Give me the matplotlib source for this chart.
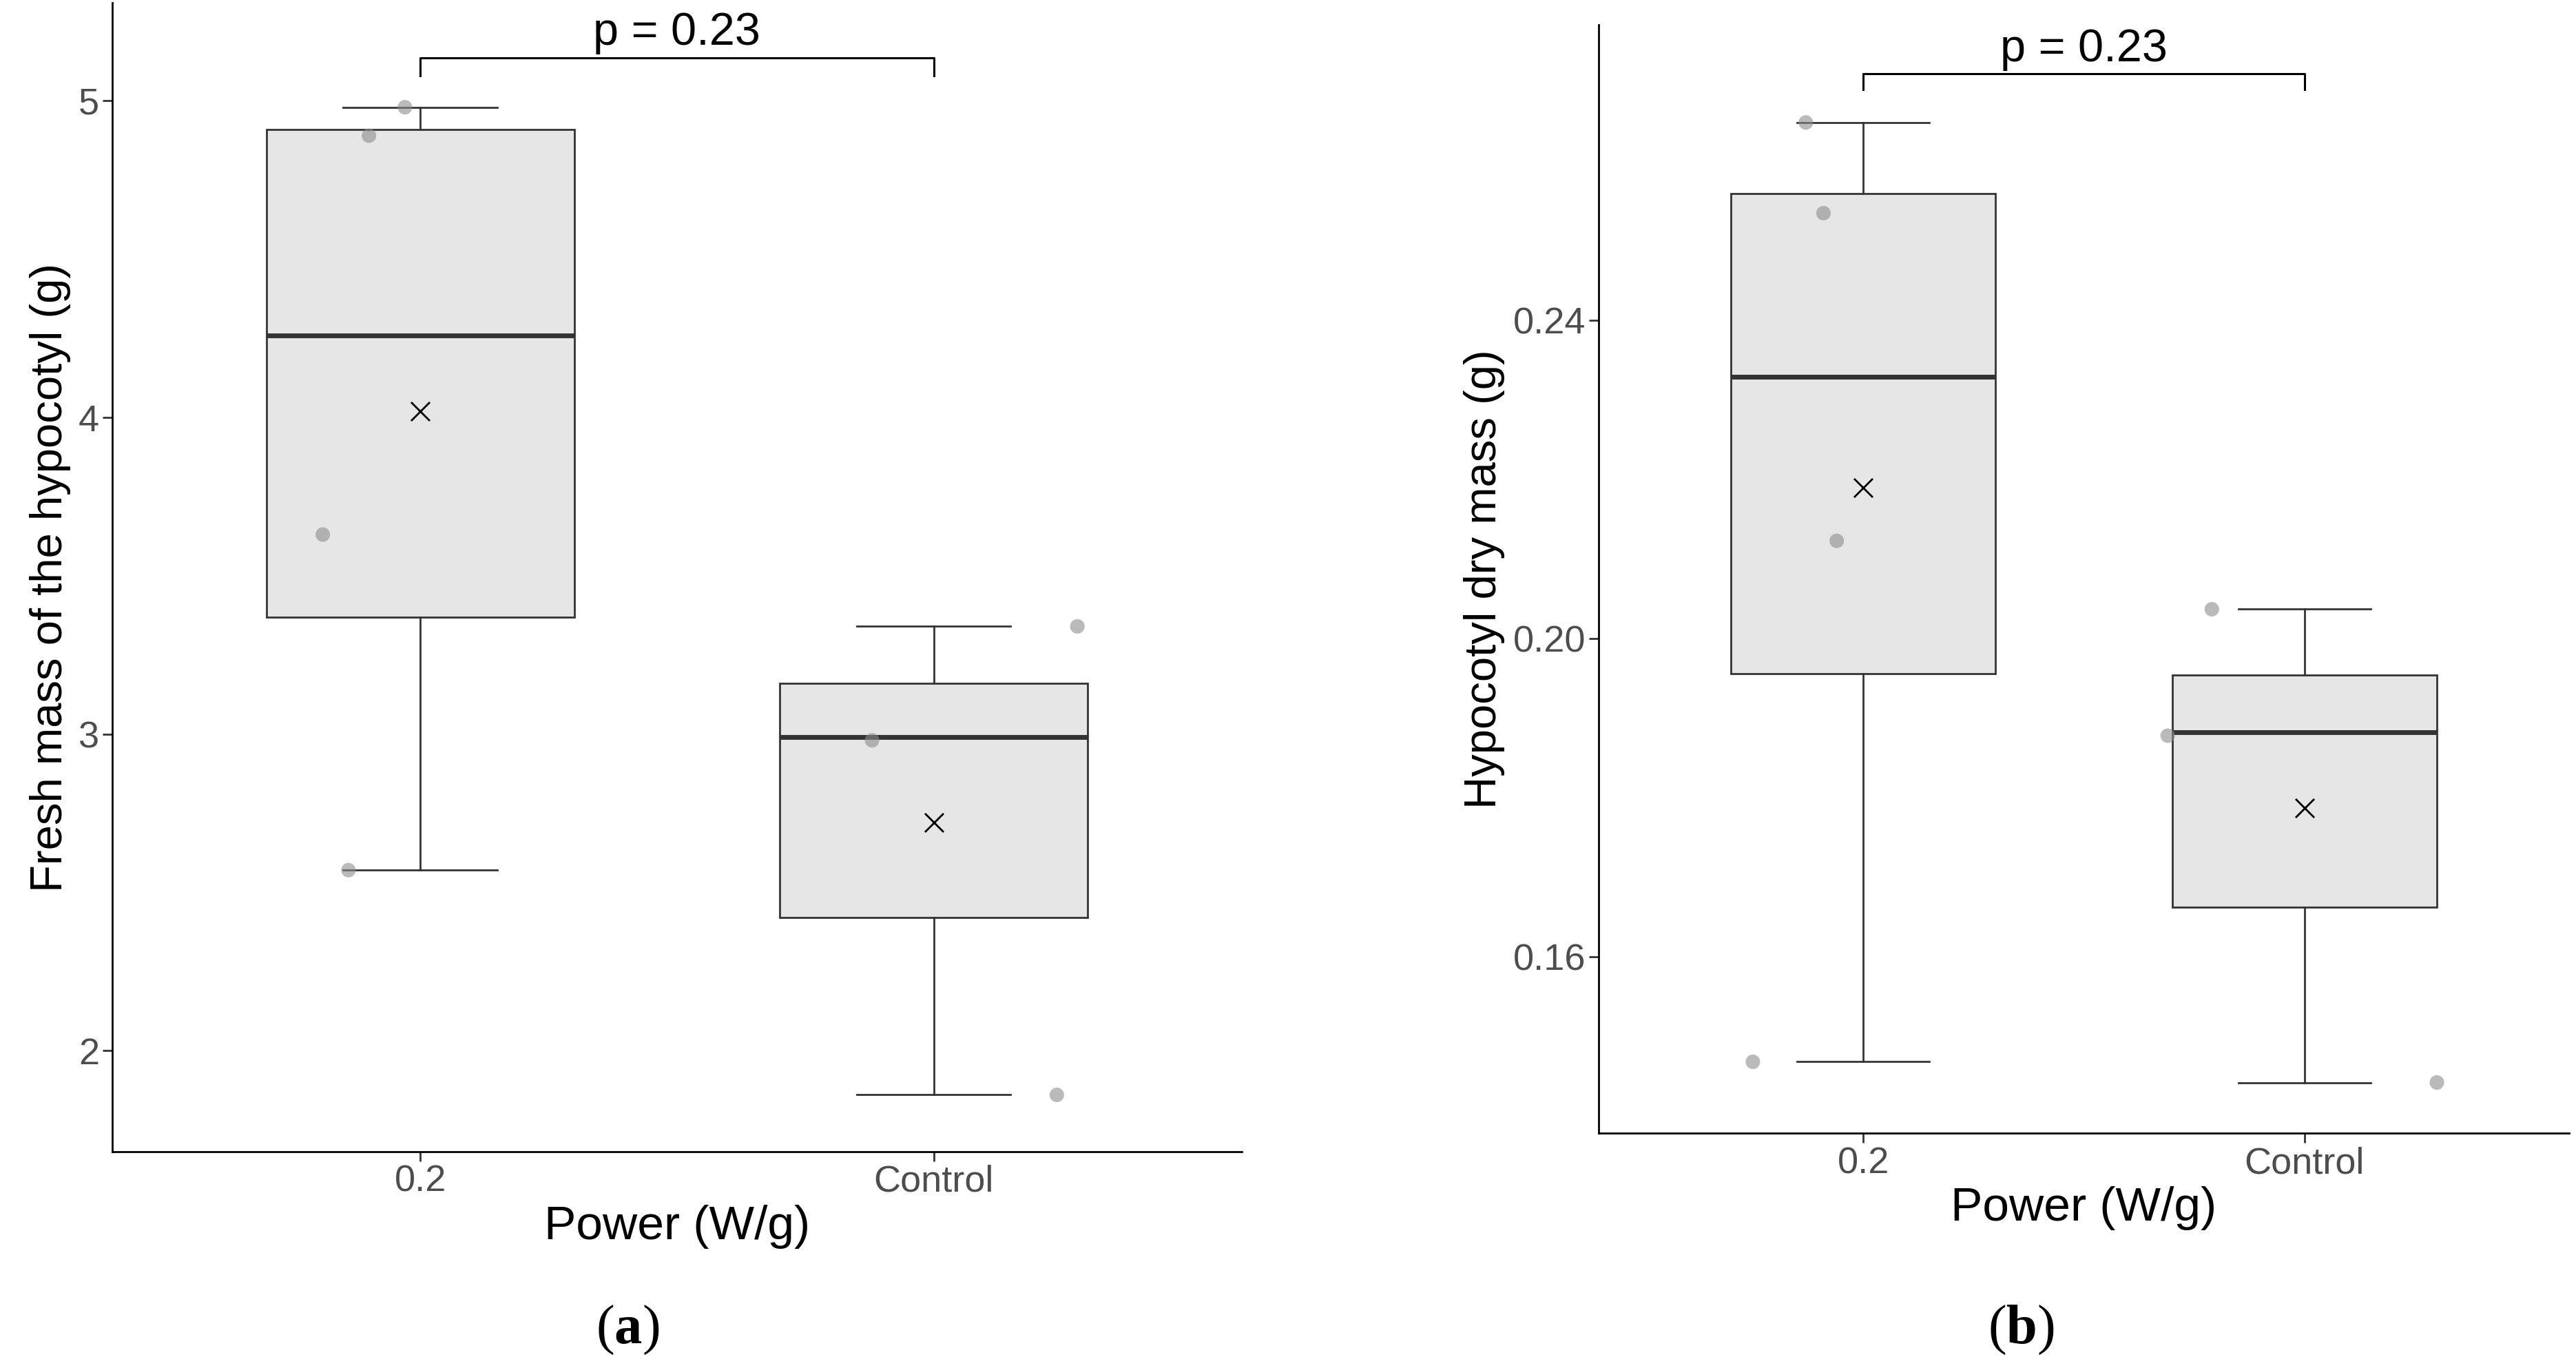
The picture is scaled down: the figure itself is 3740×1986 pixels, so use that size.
import matplotlib
matplotlib.use("Agg")
import matplotlib.pyplot as plt

plt.rcParams['font.family'] = ['Liberation Sans', 'DejaVu Sans']
plt.rcParams['mathtext.fontset'] = 'custom'
plt.rcParams['mathtext.bf'] = 'Liberation Serif:bold'
plt.rcParams['mathtext.rm'] = 'Liberation Serif'

categories = ["0.2", "Control"]
# panel a: fresh mass
a_whislo = [2.57, 1.86]; a_q1 = [3.37, 2.42]; a_med = [4.26, 2.99]
a_q3 = [4.91, 3.16]; a_whishi = [4.98, 3.34]; a_mean = [4.02, 2.72]
a_pts_x = [[-0.10, -0.03, -0.19, -0.14], [0.28, -0.12, 0.24]]
a_pts_y = [[4.89, 4.98, 3.63, 2.57], [3.34, 2.98, 1.86]]
a_ticks = [2, 3, 4, 5]
# panel b: dry mass
b_whislo = [0.1468, 0.1442]; b_q1 = [0.1956, 0.1662]; b_med = [0.2329, 0.1882]
b_q3 = [0.2560, 0.1954]; b_whishi = [0.2649, 0.2037]; b_mean = [0.2190, 0.1787]
b_pts_x = [[-0.13, -0.09, -0.06, -0.25], [-0.21, -0.31, 0.30]]
b_pts_y = [[0.2649, 0.2535, 0.2123, 0.1468], [0.2037, 0.1878, 0.1442]]
b_ticks = [0.16, 0.20, 0.24]

fig = plt.figure(figsize=(37.4, 19.86), dpi=100)
axa = fig.add_axes([0.0436, 0.158, 0.4384, 0.84])
axb = fig.add_axes([0.6205, 0.1715, 0.3769, 0.8105])

def panel(ax, lo, q1, med, q3, hi, mean, px, py, ticks, ylim, ylabel, brk, tlabels, pval):
    stats = [dict(whislo=lo[i], q1=q1[i], med=med[i], q3=q3[i], whishi=hi[i], fliers=[])
             for i in range(2)]
    ax.bxp(stats, positions=[1, 2], widths=0.6, patch_artist=True, showcaps=True,
           boxprops=dict(facecolor='#e6e6e6', edgecolor='#333333', linewidth=2),
           medianprops=dict(color='#333333', linewidth=5),
           whiskerprops=dict(color='#333333', linewidth=2),
           capprops=dict(color='#333333', linewidth=2), capwidths=0.3)
    for i in range(2):
        ax.scatter([i + 1 + d for d in px[i]], py[i], s=230, color='#8c8c8c', alpha=0.6,
                   edgecolors='none', zorder=3)
    ax.scatter([1, 2], mean, marker='x', s=380, color='black', linewidths=2, zorder=4)
    ax.plot([1, 1, 2, 2], [brk[1], brk[0], brk[0], brk[1]], color='black', lw=2.2, clip_on=False)
    ax.text(1.5, brk[0] + (ylim[1] - ylim[0]) * 0.003, pval, ha='center', va='bottom', fontsize=48)
    ax.set_xlim(0.4, 2.6)
    ax.set_ylim(*ylim)
    ax.set_xticks([1, 2])
    ax.set_xticklabels(categories)
    ax.set_yticks(ticks)
    ax.set_yticklabels(tlabels)
    ax.tick_params(labelsize=39, labelcolor='#4d4d4d', length=10, width=2, color='#333333')
    for s in ['top', 'right']:
        ax.spines[s].set_visible(False)
    for s in ['left', 'bottom']:
        ax.spines[s].set_linewidth(2)
    ax.set_xlabel("Power (W/g)", fontsize=50, labelpad=6)
    ax.set_ylabel(ylabel, fontsize=47, labelpad=8)

panel(axa, a_whislo, a_q1, a_med, a_q3, a_whishi, a_mean, a_pts_x, a_pts_y, a_ticks,
      (1.68, 5.31), "Fresh mass of the hypocotyl (g)", (5.135, 5.08),
      [str(t) for t in a_ticks], "p = 0.23")
panel(axb, b_whislo, b_q1, b_med, b_q3, b_whishi, b_mean, b_pts_x, b_pts_y, b_ticks,
      (0.1378, 0.2772), "Hypocotyl dry mass (g)", (0.2710, 0.2690),
      ["%.2f" % t for t in b_ticks], "p = 0.23")

fig.text(380 / 1560, 1 - 805 / 828, r"($\mathbf{a}$)", ha='center', va='center', fontsize=58,
         family='Liberation Serif')
fig.text(1224 / 1560, 1 - 805 / 828, r"($\mathbf{b}$)", ha='center', va='center', fontsize=58,
         family='Liberation Serif')

fig.savefig("out.png", dpi=100)
